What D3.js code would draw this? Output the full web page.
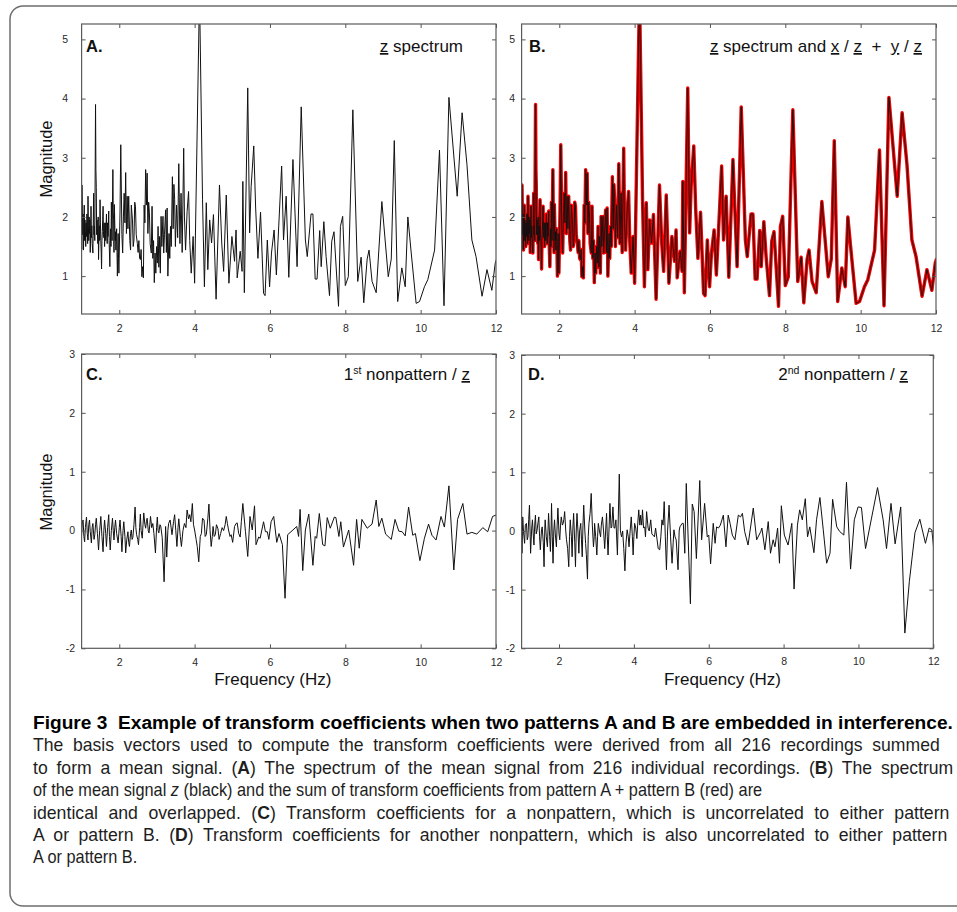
<!DOCTYPE html>
<html>
<head>
<meta charset="utf-8">
<script src="https://cdn.jsdelivr.net/npm/d3@7"></script>
<style>
  body { margin: 0; background: #fff; }
  svg text { font-family: "Liberation Sans", Arial, sans-serif; }
  .pre { white-space: pre; }
</style>
</head>
<body>
<svg id="fig" width="957" height="912"></svg>
<script>
// ---- data: [frequency (Hz), magnitude] ----
// z spectrum (panel A, also drawn black in panel B)
var zSpectrum = [
  [1.00,2.00],[1.005,1.45],[1.01,2.54],[1.02,2.10],[1.03,1.70],[1.04,2.05],[1.05,1.44],[1.06,1.85],
  [1.07,2.20],[1.08,1.60],[1.09,1.95],[1.10,1.75],[1.11,1.50],[1.12,1.90],[1.13,1.67],[1.14,2.05],
  [1.15,1.95],[1.16,1.55],[1.17,2.35],[1.18,1.85],[1.19,1.60],[1.20,2.00],[1.21,1.72],[1.22,1.95],
  [1.23,1.40],[1.24,1.75],[1.25,2.18],[1.26,1.65],[1.27,1.85],[1.28,1.55],[1.30,1.39],[1.31,1.90],
  [1.32,2.40],[1.33,1.70],[1.34,1.85],[1.35,1.60],[1.37,3.90],[1.38,2.80],[1.39,2.50],[1.40,1.70],
  [1.41,1.95],[1.42,1.80],[1.43,1.55],[1.44,2.00],[1.45,1.28],[1.46,1.65],[1.47,1.85],[1.48,1.60],
  [1.49,2.29],[1.50,1.90],[1.51,1.60],[1.52,1.40],[1.53,1.12],[1.54,1.60],[1.55,1.75],[1.56,1.95],
  [1.57,2.18],[1.58,1.75],[1.59,1.65],[1.60,1.90],[1.61,1.50],[1.62,1.70],[1.63,1.90],[1.64,1.60],
  [1.65,1.85],[1.66,2.05],[1.67,1.70],[1.68,1.55],[1.69,1.90],[1.70,1.67],[1.71,1.85],[1.72,2.10],
  [1.73,1.60],[1.75,1.16],[1.76,1.55],[1.77,1.80],[1.78,1.50],[1.79,2.25],[1.80,1.80],[1.81,1.60],
  [1.83,2.80],[1.84,2.10],[1.85,1.95],[1.86,1.40],[1.87,2.21],[1.88,1.90],[1.89,1.60],[1.90,1.75],
  [1.91,1.44],[1.92,1.65],[1.93,1.80],[1.95,1.00],[1.96,1.40],[1.97,1.72],[1.98,1.30],[1.99,1.05],
  [2.02,2.10],[2.04,3.22],[2.07,1.70],[2.09,1.39],[2.11,2.00],[2.13,2.40],[2.15,1.90],
  [2.17,2.75],[2.19,1.72],[2.21,2.35],[2.23,1.80],[2.25,2.35],[2.28,1.60],[2.30,1.44],[2.32,2.20],
  [2.35,1.95],[2.37,1.50],[2.39,1.61],[2.41,2.25],[2.43,2.18],[2.45,1.70],[2.48,1.55],[2.50,1.40],
  [2.52,1.60],[2.54,1.30],[2.56,1.28],[2.58,1.45],[2.60,0.99],[2.62,1.16],[2.64,0.97],[2.66,2.20],
  [2.68,1.90],[2.70,2.80],[2.72,2.20],[2.74,2.74],[2.76,1.72],[2.78,2.25],[2.80,2.07],[2.82,1.55],
  [2.85,1.39],[2.87,2.18],[2.89,1.30],[2.91,1.60],[2.93,0.89],[2.95,1.39],[2.97,1.05],[2.99,1.50],
  [3.01,1.22],[3.03,1.84],[3.05,1.15],[3.07,1.67],[3.09,1.05],[3.11,2.01],[3.13,1.50],[3.16,2.01],
  [3.18,1.39],[3.20,1.70],[3.23,2.12],[3.25,1.40],[3.27,2.15],[3.29,1.00],[3.32,1.72],[3.34,1.30],
  [3.36,1.84],[3.38,1.50],[3.41,2.68],[3.43,1.80],[3.45,2.55],[3.47,2.30],[3.49,1.50],[3.52,2.20],
  [3.55,1.65],[3.58,2.90],[3.61,1.55],[3.64,2.40],[3.67,1.40],[3.71,3.16],[3.73,2.00],[3.76,1.44],
  [3.80,2.09],[3.84,2.43],[3.87,1.60],[3.91,1.05],[3.96,1.67],[4.00,0.88],[4.13,5.80],[4.21,2.30],
  [4.26,0.82],[4.31,2.24],[4.35,1.11],[4.40,1.95],[4.45,1.56],[4.50,2.04],[4.57,0.61],[4.66,2.54],
  [4.72,1.56],[4.77,1.08],[4.84,2.37],[4.91,0.88],[4.99,1.67],[5.06,1.25],[5.10,1.78],[5.13,0.97],
  [5.21,1.42],[5.26,1.08],[5.28,2.60],[5.32,0.72],[5.41,4.18],[5.46,1.73],[5.50,2.51],[5.57,3.20],
  [5.62,2.15],[5.68,1.30],[5.75,2.08],[5.83,0.71],[5.87,0.67],[5.93,1.61],[5.99,0.82],[6.04,1.39],
  [6.11,1.78],[6.17,1.02],[6.31,2.86],[6.36,1.61],[6.43,2.35],[6.50,0.98],[6.61,2.97],[6.72,1.16],
  [6.83,3.86],[6.94,1.61],[6.99,1.33],[7.09,2.05],[7.14,2.05],[7.20,0.95],[7.25,0.95],[7.32,1.77],
  [7.36,1.16],[7.43,1.92],[7.49,1.33],[7.58,0.67],[7.64,1.59],[7.70,1.75],[7.82,0.49],[7.87,1.84],
  [7.93,2.01],[8.00,0.84],[8.08,0.99],[8.20,3.81],[8.33,0.91],[8.42,1.32],[8.49,0.55],[8.58,1.29],
  [8.63,1.44],[8.71,0.91],[8.82,0.72],[8.97,2.26],[9.14,0.99],[9.22,1.29],[9.30,3.29],[9.39,0.57],
  [9.50,1.14],[9.59,0.82],[9.66,2.00],[9.75,1.39],[9.88,0.54],[9.97,0.57],[10.10,0.82],[10.19,0.94],
  [10.37,1.44],[10.50,3.13],[10.62,0.50],[10.75,4.02],[10.97,2.35],[11.10,3.76],[11.23,2.88],[11.36,1.61],
  [11.47,1.33],[11.63,0.66],[11.76,1.11],[11.89,0.76],[11.98,1.22],[12.02,1.30]
];
// x/z + y/z : identical to the z spectrum (red in panel B)
var patternSum = zSpectrum;

// 1st nonpattern / z (panel C)
var nonpattern1 = [
  [1.00,-0.07],[1.02,0.15],[1.04,0.18],[1.06,-0.10],[1.08,-0.19],[1.10,0.05],[1.13,0.23],[1.15,-0.05],
  [1.17,-0.16],[1.19,0.10],[1.21,0.18],[1.23,-0.02],[1.26,-0.21],[1.28,0.05],[1.30,0.12],[1.33,-0.15],
  [1.35,-0.07],[1.37,0.10],[1.39,0.21],[1.42,-0.05],[1.45,-0.33],[1.48,0.00],[1.51,0.24],[1.54,-0.10],
  [1.57,-0.36],[1.59,0.00],[1.61,0.18],[1.64,-0.05],[1.66,-0.27],[1.69,0.05],[1.72,0.27],[1.74,-0.10],
  [1.76,-0.33],[1.79,0.00],[1.82,0.21],[1.84,0.00],[1.86,-0.16],[1.88,0.05],[1.90,0.18],[1.93,-0.05],
  [1.97,-0.21],[2.00,0.05],[2.02,0.18],[2.05,-0.10],[2.07,-0.36],[2.10,0.00],[2.12,0.15],[2.15,-0.10],
  [2.17,-0.38],[2.20,-0.15],[2.23,-0.02],[2.25,-0.20],[2.27,-0.27],[2.30,-0.05],[2.32,0.01],[2.34,-0.15],
  [2.36,-0.12],[2.39,0.10],[2.42,0.40],[2.44,0.05],[2.46,-0.07],[2.49,-0.15],[2.51,-0.24],[2.54,0.05],
  [2.56,0.28],[2.58,0.00],[2.61,-0.13],[2.63,0.10],[2.65,0.30],[2.68,0.10],[2.70,0.04],[2.72,0.15],
  [2.74,0.21],[2.77,0.00],[2.79,-0.04],[2.81,0.10],[2.83,0.24],[2.86,0.05],[2.89,0.12],[2.92,-0.05],
  [2.96,-0.38],[2.99,0.05],[3.01,0.23],[3.03,0.00],[3.05,-0.04],[3.08,0.10],[3.10,0.08],[3.14,-0.12],
  [3.19,-0.87],[3.23,0.07],[3.26,-0.45],[3.29,0.00],[3.31,0.12],[3.35,0.18],[3.40,-0.07],[3.44,0.15],
  [3.47,0.27],[3.50,0.00],[3.53,-0.27],[3.56,0.05],[3.58,0.20],[3.62,-0.10],[3.65,-0.27],[3.69,0.00],
  [3.73,0.12],[3.77,0.05],[3.80,0.35],[3.84,0.20],[3.87,0.27],[3.90,0.15],[3.94,0.46],[3.97,0.10],
  [4.00,0.01],[4.04,-0.15],[4.07,-0.27],[4.11,-0.53],[4.15,-0.10],[4.18,-0.05],[4.21,0.21],[4.25,0.18],
  [4.28,-0.10],[4.31,-0.07],[4.35,0.20],[4.38,0.45],[4.41,0.00],[4.44,-0.27],[4.47,-0.10],[4.49,0.07],
  [4.52,-0.10],[4.55,-0.07],[4.58,0.10],[4.62,0.03],[4.65,-0.15],[4.69,-0.05],[4.73,0.05],[4.77,0.00],
  [4.81,0.10],[4.84,0.24],[4.87,0.12],[4.90,0.01],[4.94,-0.10],[4.97,-0.07],[5.01,-0.20],[5.06,0.07],
  [5.10,0.12],[5.13,0.13],[5.17,-0.05],[5.21,-0.11],[5.24,0.15],[5.28,0.46],[5.35,-0.02],[5.41,-0.44],
  [5.47,0.24],[5.53,0.01],[5.59,0.42],[5.63,-0.24],[5.70,-0.11],[5.74,-0.13],[5.83,0.15],[5.88,-0.02],
  [5.93,-0.02],[5.97,-0.15],[6.03,0.15],[6.10,0.24],[6.18,-0.20],[6.24,-0.05],[6.33,-0.24],[6.40,-1.15],
  [6.47,-0.07],[6.61,0.01],[6.71,0.07],[6.76,-0.10],[6.80,0.36],[6.87,-0.68],[6.94,0.01],[7.03,0.28],
  [7.14,-0.59],[7.20,-0.10],[7.24,-0.13],[7.31,0.29],[7.40,-0.24],[7.46,-0.26],[7.52,0.22],[7.60,0.04],
  [7.71,0.23],[7.75,0.22],[7.83,-0.10],[7.88,0.15],[7.95,-0.28],[8.09,0.01],[8.22,-0.59],[8.30,0.19],
  [8.37,-0.30],[8.44,0.19],[8.58,0.04],[8.71,0.11],[8.82,0.52],[8.89,0.07],[8.97,0.21],[9.07,-0.06],
  [9.22,-0.15],[9.32,0.19],[9.42,-0.01],[9.51,-0.02],[9.59,-0.09],[9.68,0.40],[9.79,-0.08],[9.86,-0.05],
  [9.98,-0.51],[10.10,-0.13],[10.21,0.11],[10.30,-0.08],[10.41,-0.16],[10.54,0.24],[10.63,0.06],[10.75,0.76],
  [10.88,-0.67],[10.98,0.19],[11.12,0.46],[11.23,-0.06],[11.36,-0.03],[11.49,-0.06],[11.65,0.05],[11.78,-0.02],
  [11.91,0.24],[12.02,0.27]
];

// 2nd nonpattern / z (panel D)
var nonpattern2 = [
  [1.00,0.07],[1.01,-0.38],[1.03,0.24],[1.05,0.00],[1.08,-0.21],[1.10,0.10],[1.13,0.13],[1.15,-0.15],
  [1.17,-0.10],[1.19,0.20],[1.21,0.44],[1.23,-0.10],[1.24,-0.38],[1.27,0.05],[1.29,0.19],[1.31,-0.05],
  [1.33,-0.24],[1.35,0.10],[1.37,0.27],[1.39,-0.05],[1.41,0.00],[1.44,0.15],[1.46,0.24],[1.48,-0.10],
  [1.50,-0.32],[1.53,0.00],[1.55,0.07],[1.58,-0.20],[1.60,-0.61],[1.62,0.05],[1.63,0.19],[1.66,-0.10],
  [1.69,-0.27],[1.71,0.10],[1.72,0.30],[1.75,-0.10],[1.77,-0.35],[1.79,0.10],[1.80,0.47],[1.82,-0.10],
  [1.84,-0.55],[1.86,0.00],[1.88,0.19],[1.90,-0.05],[1.93,-0.27],[1.95,0.10],[1.97,0.39],[2.00,-0.05],
  [2.02,-0.15],[2.04,0.10],[2.06,0.24],[2.09,0.10],[2.11,0.13],[2.13,0.20],[2.15,0.33],[2.18,0.00],
  [2.20,-0.15],[2.23,-0.30],[2.26,-0.61],[2.28,-0.10],[2.30,0.19],[2.33,-0.10],[2.35,-0.44],[2.37,0.05],
  [2.39,0.30],[2.42,-0.20],[2.44,-0.61],[2.46,0.00],[2.48,0.30],[2.51,-0.05],[2.53,-0.38],[2.55,0.00],
  [2.58,0.13],[2.60,-0.15],[2.62,-0.44],[2.64,0.10],[2.66,0.44],[2.69,0.00],[2.71,-0.21],[2.73,-0.40],
  [2.76,-0.82],[2.78,-0.10],[2.80,0.13],[2.83,0.30],[2.86,0.64],[2.89,0.10],[2.92,-0.27],[2.94,-0.10],
  [2.95,0.13],[2.98,-0.10],[3.01,-0.41],[3.03,-0.10],[3.05,0.13],[3.08,0.00],[3.11,-0.10],[3.13,0.10],
  [3.16,0.24],[3.19,0.00],[3.22,-0.30],[3.25,0.05],[3.27,0.30],[3.29,-0.10],[3.31,-0.41],[3.34,0.10],
  [3.36,0.47],[3.39,0.05],[3.41,0.07],[3.44,0.41],[3.47,0.05],[3.49,0.05],[3.52,0.19],[3.56,-0.41],
  [3.61,0.97],[3.64,0.00],[3.67,-0.10],[3.70,0.00],[3.73,-0.30],[3.76,-0.68],[3.79,-0.20],[3.82,0.02],
  [3.85,-0.10],[3.87,-0.27],[3.90,0.00],[3.93,0.24],[3.96,-0.10],[3.98,-0.41],[4.00,-0.10],[4.02,0.13],
  [4.05,0.05],[4.08,-0.13],[4.10,0.10],[4.13,0.36],[4.16,0.10],[4.18,0.27],[4.21,0.10],[4.23,0.36],
  [4.26,0.05],[4.29,0.07],[4.31,-0.10],[4.34,0.33],[4.38,0.05],[4.41,0.00],[4.45,0.19],[4.48,-0.05],
  [4.51,-0.07],[4.55,-0.10],[4.58,0.05],[4.62,-0.15],[4.65,-0.30],[4.69,-0.32],[4.72,-0.10],[4.75,0.19],
  [4.78,0.10],[4.81,0.50],[4.84,-0.10],[4.87,-0.66],[4.90,0.00],[4.94,0.44],[4.98,-0.10],[5.02,-0.55],
  [5.05,-0.20],[5.07,0.02],[5.10,-0.10],[5.13,-0.15],[5.18,-0.66],[5.21,0.00],[5.23,0.07],[5.26,0.10],
  [5.29,0.13],[5.32,0.13],[5.36,-0.38],[5.40,0.81],[5.51,-1.24],[5.56,0.46],[5.61,0.33],[5.67,-0.47],
  [5.76,0.86],[5.81,-0.15],[5.89,0.47],[5.96,-0.10],[6.00,-0.07],[6.05,-0.56],[6.12,0.13],[6.17,-0.21],
  [6.21,0.07],[6.26,0.05],[6.31,0.10],[6.39,0.27],[6.46,-0.27],[6.52,0.27],[6.57,0.13],[6.63,-0.07],
  [6.70,-0.15],[6.79,0.27],[6.85,0.24],[6.90,0.30],[6.96,-0.01],[7.05,-0.24],[7.19,0.39],[7.28,-0.15],
  [7.39,-0.01],[7.42,0.05],[7.50,-0.32],[7.59,0.16],[7.65,-0.38],[7.72,-0.15],[7.77,-0.27],[7.84,0.05],
  [7.89,-0.55],[7.94,0.43],[8.02,-0.07],[8.12,-0.24],[8.22,0.13],[8.28,-0.99],[8.37,0.10],[8.43,0.36],
  [8.50,0.19],[8.58,0.55],[8.64,-0.10],[8.70,0.07],[8.81,-0.37],[8.88,0.19],[8.97,0.57],[9.06,0.02],
  [9.15,-0.55],[9.24,-0.38],[9.31,0.54],[9.42,0.07],[9.50,-0.01],[9.61,-0.07],[9.68,0.83],[9.79,-0.65],
  [9.89,0.19],[9.99,0.41],[10.08,0.40],[10.19,-0.30],[10.35,0.22],[10.51,0.74],[10.66,0.19],[10.75,-0.30],
  [10.87,0.47],[10.98,-0.22],[11.13,0.41],[11.24,-1.74],[11.36,-0.86],[11.51,-0.03],[11.64,0.20],[11.79,-0.21],
  [11.89,0.05],[11.96,0.02],[12.02,-0.35]
];

var freqTicks = [2, 4, 6, 8, 10, 12];
var spectrumTicks = [1, 2, 3, 4, 5];
var coefTicks = [-2, -1, 0, 1, 2, 3];

var captionLines = [
  [["Figure 3  Example of transform coefficients when two patterns A and B are embedded in interference.", "b"]],
  [["The basis vectors used to compute the transform coefficients were derived from all 216 recordings summed"]],
  [["to form a mean signal. ("], ["A", "b"], [") The spectrum of the mean signal from 216 individual recordings. ("], ["B", "b"], [") The spectrum"]],
  [["of the mean signal "], ["z", "i"], [" (black) and the sum of transform coefficients from pattern A + pattern B (red) are"]],
  [["identical and overlapped. ("], ["C", "b"], [") Transform coefficients for a nonpattern, which is uncorrelated to either pattern"]],
  [["A or pattern B. ("], ["D", "b"], [") Transform coefficients for another nonpattern, which is also uncorrelated to either pattern"]],
  [["A or pattern B."]]
];
var captionWidths = [920, 907, 920, 730, 917, 915, 110];
var captionJustified = [true, true, true, false, true, true, false];

var svg = d3.select("#fig");

// rounded frame of the figure box
svg.append("path")
  .attr("d", "M 975 6 H 23 A 13 13 0 0 0 10 19 V 893 A 13 13 0 0 0 23 906 H 975")
  .attr("fill", "none")
  .attr("stroke", "#6e6e6e")
  .attr("stroke-width", 1.5);

var panels = [
  { key: "A", left: 81.6, right: 496, top: 24, bottom: 314, yDomain: [0.36, 5.26], yTicks: spectrumTicks,
    yPad: 13.6, xPad: 10.8, letter: "A.", letterX: 86, titleY: 52, titleRight: 463,
    title: [["z", "u"], [" spectrum"]], magLabel: 159, freqLabel: false,
    series: [{ data: zSpectrum, color: "#111", width: 1 }] },
  { key: "B", left: 521.6, right: 936, top: 24, bottom: 314, yDomain: [0.36, 5.26], yTicks: spectrumTicks,
    yPad: 6.6, xPad: 10.8, letter: "B.", letterX: 529, titleY: 52, titleRight: 922,
    title: [["z", "u"], [" spectrum and "], ["x", "u"], [" / "], ["z", "u"], ["  +  "], ["y", "u"], [" / "], ["z", "u"]],
    magLabel: null, freqLabel: false,
    series: [{ data: patternSum, color: "#f00000", width: 3.4 }, { data: zSpectrum, color: "#111", width: 0.9 }] },
  { key: "C", left: 81.6, right: 496, top: 354, bottom: 648.3, yDomain: [-2, 3], yTicks: coefTicks,
    yPad: 6.6, xPad: 10, letter: "C.", letterX: 86, titleY: 380, titleRight: 470,
    title: [["1"], ["st", "sup"], [" nonpattern / "], ["z", "u"]], magLabel: 492, freqLabel: true,
    series: [{ data: nonpattern1, color: "#111", width: 1 }] },
  { key: "D", left: 521.6, right: 933.3, top: 355, bottom: 648.3, yDomain: [-2, 3], yTicks: coefTicks,
    yPad: 6.6, xPad: 9.5, letter: "D.", letterX: 528, titleY: 380, titleRight: 908,
    title: [["2"], ["nd", "sup"], [" nonpattern / "], ["z", "u"]], magLabel: null, freqLabel: true,
    series: [{ data: nonpattern2, color: "#111", width: 1 }] }
];

var plain = function(d) { return String(d); };

panels.forEach(function(p) {
  var x = d3.scaleLinear().domain([1, 12]).range([p.left, p.right]);
  var y = d3.scaleLinear().domain(p.yDomain).range([p.bottom, p.top]);

  var g = svg.append("g").attr("class", "panel-" + p.key);

  g.append("clipPath").attr("id", "clip" + p.key)
    .append("rect")
      .attr("x", p.left).attr("y", p.top)
      .attr("width", p.right - p.left).attr("height", p.bottom - p.top);

  var line = d3.line()
    .x(function(d) { return x(d[0]); })
    .y(function(d) { return y(d[1]); });

  p.series.forEach(function(s) {
    g.append("path")
      .datum(s.data)
      .attr("clip-path", "url(#clip" + p.key + ")")
      .attr("fill", "none")
      .attr("stroke", s.color)
      .attr("stroke-width", s.width)
      .attr("stroke-linejoin", "round")
      .attr("d", line);
  });

  // axes, matlab style: ticks pointing inwards on all four sides
  function styleAxis(sel) {
    sel.select(".domain").remove();
    sel.selectAll(".tick line").attr("stroke", "#555");
    sel.selectAll(".tick text").attr("fill", "#2a2a2a").attr("font-size", 10.5)
      .style("font-family", "'Liberation Sans', Arial, sans-serif");
  }

  g.append("g").attr("transform", "translate(0," + p.bottom + ")")
    .call(d3.axisBottom(x).tickValues(freqTicks).tickFormat(plain).tickSizeInner(-4).tickSizeOuter(0).tickPadding(p.xPad))
    .call(styleAxis);
  g.append("g").attr("transform", "translate(0," + p.top + ")")
    .call(d3.axisTop(x).tickValues(freqTicks).tickSizeInner(-4).tickSizeOuter(0).tickFormat(""))
    .call(styleAxis);
  g.append("g").attr("transform", "translate(" + p.left + ",0)")
    .call(d3.axisLeft(y).tickValues(p.yTicks).tickFormat(plain).tickSizeInner(-4).tickSizeOuter(0).tickPadding(p.yPad))
    .call(styleAxis);
  g.append("g").attr("transform", "translate(" + p.right + ",0)")
    .call(d3.axisRight(y).tickValues(p.yTicks).tickSizeInner(-4).tickSizeOuter(0).tickFormat(""))
    .call(styleAxis);

  g.append("rect")
    .attr("x", p.left).attr("y", p.top)
    .attr("width", p.right - p.left).attr("height", p.bottom - p.top)
    .attr("fill", "none").attr("stroke", "#5a5a5a").attr("stroke-width", 1.2);

  g.append("text")
    .attr("x", p.letterX).attr("y", p.titleY)
    .attr("font-size", 16.5).attr("font-weight", "bold").attr("fill", "#111")
    .text(p.letter);

  var t = g.append("text")
    .attr("class", "pre")
    .attr("x", p.titleRight).attr("y", p.titleY)
    .attr("text-anchor", "end")
    .attr("font-size", 17).attr("fill", "#111");
  var lifted = false;
  p.title.forEach(function(part) {
    var ts = t.append("tspan").text(part[0]);
    if (part[1] === "u") ts.style("text-decoration", "underline");
    if (part[1] === "sup") {
      ts.attr("font-size", 10.5).attr("dy", -6);
      lifted = true;
    } else if (lifted) {
      ts.attr("dy", 6);
      lifted = false;
    }
  });

  if (p.magLabel !== null) {
    svg.append("text")
      .attr("transform", "translate(51.5," + p.magLabel + ") rotate(-90)")
      .attr("text-anchor", "middle")
      .attr("font-size", 16.5).attr("fill", "#111")
      .text("Magnitude");
  }
  if (p.freqLabel) {
    svg.append("text")
      .attr("x", (p.left + p.right) / 2 + (p.key === "C" ? -16 : -5))
      .attr("y", 685)
      .attr("text-anchor", "middle")
      .attr("font-size", 17).attr("fill", "#111")
      .text("Frequency (Hz)");
  }
});

// caption: a narrowed face, justified lines like the journal layout
var cap = svg.append("g").attr("class", "caption");

var rows = captionLines.map(function(parts, i) {
  var holder = cap.append("g");
  var t = holder.append("text")
    .attr("class", "pre")
    .attr("x", 0).attr("y", 0)
    .attr("font-size", 17.5)
    .attr("fill", i === 0 ? "#000" : "#1e1e1e");
  parts.forEach(function(part) {
    var ts = t.append("tspan").text(part[0]);
    if (part[1] === "b") ts.attr("font-weight", "bold");
    if (part[1] === "i") ts.attr("font-style", "italic");
  });
  return { holder: holder, text: t };
});

var natural = rows.map(function(r) { return r.text.node().getComputedTextLength(); });
// the ragged third line sets how much the face is narrowed
var squeeze = captionWidths[3] / natural[3];

rows.forEach(function(r, i) {
  var sx = squeeze;
  if (i === 0) {
    sx = captionWidths[0] / natural[0];
  } else if (captionJustified[i]) {
    // half of the slack goes into word gaps, the rest into the glyphs
    var spaces = (r.text.text().match(/ /g) || []).length;
    var slack = captionWidths[i] - natural[i] * squeeze;
    r.text.style("word-spacing", (0.5 * slack / squeeze / spaces) + "px");
    sx = captionWidths[i] / r.text.node().getComputedTextLength();
  }
  r.holder.attr("transform", "translate(33," + (729 + i * 22.4) + ") scale(" + sx + ",1)");
});
</script>
</body>
</html>
